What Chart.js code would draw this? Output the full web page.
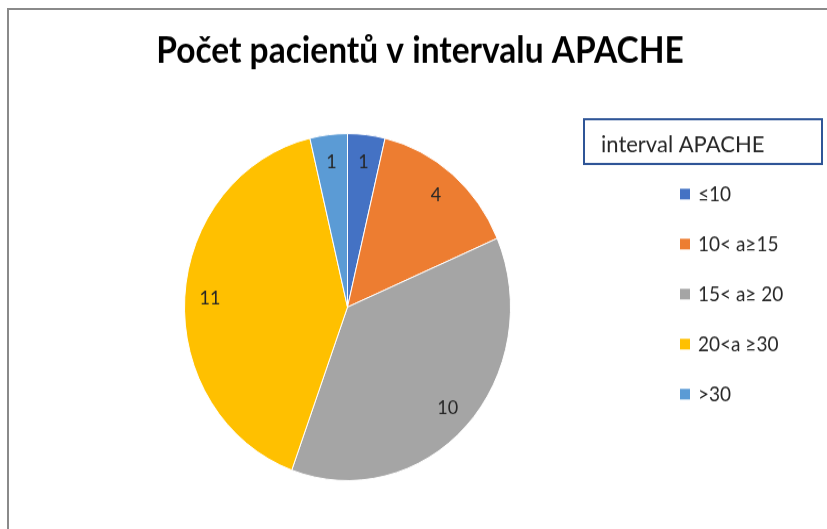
<!DOCTYPE html>
<html>
<head>
<meta charset="utf-8">
<script src="https://cdn.jsdelivr.net/npm/chart.js@4"></script>
<style>
  body { margin: 0; background: #fff; }
  .frame { position: absolute; left: 7px; top: 8px; width: 830px; height: 530px;
           border-top: 2px solid #8a8a8a; border-left: 2px solid #8a8a8a; }
  .wrap { position: absolute; left: 0; top: 0; width: 827px; height: 497px;
          transform: scaleY(1.0644); transform-origin: 0 0; }
</style>
</head>
<body>
<div class="frame"></div>
<div class="wrap"><canvas id="chart" width="827" height="497"></canvas></div>
<script>
const chartTitle = "Počet pacientů v intervalu APACHE";
const legendTitle = "interval APACHE";
const categories = ["≤10", "10< a≥15", "15< a≥ 20", "20<a ≥30", ">30"];
const counts = [1, 4, 10, 11, 1];
const sliceColors = ["#4472C4", "#ED7D31", "#A5A5A5", "#FFC000", "#5B9BD5"];

const FONT = "Lato, 'Open Sans', sans-serif";

// title, legend and value labels
const decorations = {
    id: "decorations",
    afterDatasetsDraw(chart) {
        const ctx = chart.ctx;
        const meta = chart.getDatasetMeta(0);
        ctx.save();

        // value labels inside slices
        ctx.fillStyle = "#262626";
        ctx.font = "18px " + FONT;
        ctx.textAlign = "center";
        ctx.textBaseline = "middle";
        meta.data.forEach((arc, i) => {
            const p = arc.getProps(["x", "y", "startAngle", "endAngle", "outerRadius"], true);
            const mid = (p.startAngle + p.endAngle) / 2;
            const r = p.outerRadius * 0.845;
            ctx.fillText(chart.data.datasets[0].data[i], p.x + Math.cos(mid) * r, p.y + Math.sin(mid) * r);
        });

        // title
        ctx.fillStyle = "#000";
        ctx.font = "bold 33.5px " + FONT;
        ctx.textBaseline = "alphabetic";
        ctx.fillText(chartTitle, 420, 59);

        // legend title box
        ctx.strokeStyle = "#2F5597";
        ctx.lineWidth = 2;
        ctx.strokeRect(584, 112, 238, 42);
        ctx.fillStyle = "#262626";
        ctx.font = "22px " + FONT;
        ctx.textAlign = "left";
        ctx.fillText(legendTitle, 601, 142.5);

        // legend items
        ctx.font = "19px " + FONT;
        ctx.textBaseline = "middle";
        chart.data.labels.forEach((lab, i) => {
            const y = 182.3 + i * 47;
            ctx.fillStyle = sliceColors[i];
            ctx.fillRect(680, y - 5, 10, 10);
            ctx.fillStyle = "#262626";
            ctx.fillText(lab, 698, y + 1);
        });
        ctx.restore();
    }
};

new Chart(document.getElementById("chart"), {
    type: "pie",
    data: {
        labels: categories,
        datasets: [{
            data: counts,
            backgroundColor: sliceColors,
            borderColor: "#ffffff",
            borderWidth: 1
        }]
    },
    options: {
        responsive: false,
        animation: false,
        layout: { padding: { left: 184, right: 316, top: 125, bottom: 45 } },
        plugins: {
            legend: { display: false },
            tooltip: { enabled: false }
        }
    },
    plugins: [decorations]
});
</script>
</body>
</html>
